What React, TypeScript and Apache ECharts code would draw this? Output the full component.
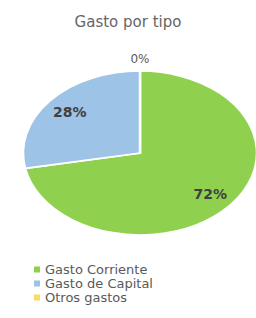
import React, { useEffect, useRef } from 'react';
import * as echarts from 'echarts';

const categories = ['Gasto Corriente', 'Gasto de Capital', 'Otros gastos'];
const values = [72, 28, 0];
const colors = ['#8fd14f', '#9dc3e6', '#ffd966'];
const titleText = 'Gasto por tipo';

export default function App() {
  const ref = useRef<HTMLDivElement>(null);
  useEffect(() => {
    const chart = echarts.init(ref.current!, null, { renderer: 'svg' });
    const total = values.reduce((a, b) => a + b, 0);
    const CX = 140, CY = 153, RX = 117, RY = 82;
    const FONT = 'DejaVu Sans';
    const series = categories.map((name, i) => ({
      type: 'custom',
      name,
      coordinateSystem: 'none',
      itemStyle: { color: colors[i] },
      data: [values[i]],
      renderItem: (params: any, api: any) => {
        const v = api.value(0);
        const before = values.slice(0, i).reduce((a, b) => a + b, 0);
        const start = -Math.PI / 2 + (before / total) * 2 * Math.PI;
        const end = start + (v / total) * 2 * Math.PI;
        const mid = (start + end) / 2;
        const frac = v / total;
        const pct = Math.round(frac * 100) + '%';
        const inside = frac >= 0.05;
        const lr = inside ? 0.78 : 1.15;
        const lx = CX + Math.cos(mid) * RX * lr;
        const ly = CY + Math.sin(mid) * RY * lr;
        const children: any[] = [];
        if (v > 0) {
          children.push({
            type: 'group',
            x: CX,
            y: CY,
            scaleY: RY / RX,
            children: [
              {
                type: 'sector',
                shape: { cx: 0, cy: 0, r: RX, r0: 0, startAngle: start, endAngle: end, clockwise: true },
                style: { fill: colors[i], stroke: '#ffffff', lineWidth: 2.5 },
              },
            ],
          });
        }
        children.push({
          type: 'text',
          x: lx,
          y: ly,
          z2: 10,
          style: {
            text: pct,
            fill: inside ? '#404040' : '#595959',
            fontFamily: FONT,
            fontSize: inside ? 14 : 12,
            fontWeight: inside ? 'bold' : 'normal',
            align: 'center',
            verticalAlign: 'middle',
          },
        });
        return { type: 'group', children };
      },
    }));
    chart.setOption({
      animation: false,
      color: colors,
      title: {
        text: titleText,
        left: 'center',
        top: 9,
        textStyle: { fontFamily: FONT, fontSize: 15, fontWeight: 'normal', color: '#666666' },
      },
      legend: {
        data: categories,
        orient: 'vertical',
        left: 34,
        top: 263,
        height: 60,
        padding: 0,
        icon: 'rect',
        itemWidth: 6,
        itemHeight: 6,
        itemGap: 1,
        textStyle: { fontFamily: FONT, fontSize: 13, color: '#595959' },
      },
      series,
    } as any);
    return () => chart.dispose();
  }, []);
  return <div ref={ref} style={{ position: 'absolute', left: 0, top: 0, width: 256, height: 318 }} />;
}
